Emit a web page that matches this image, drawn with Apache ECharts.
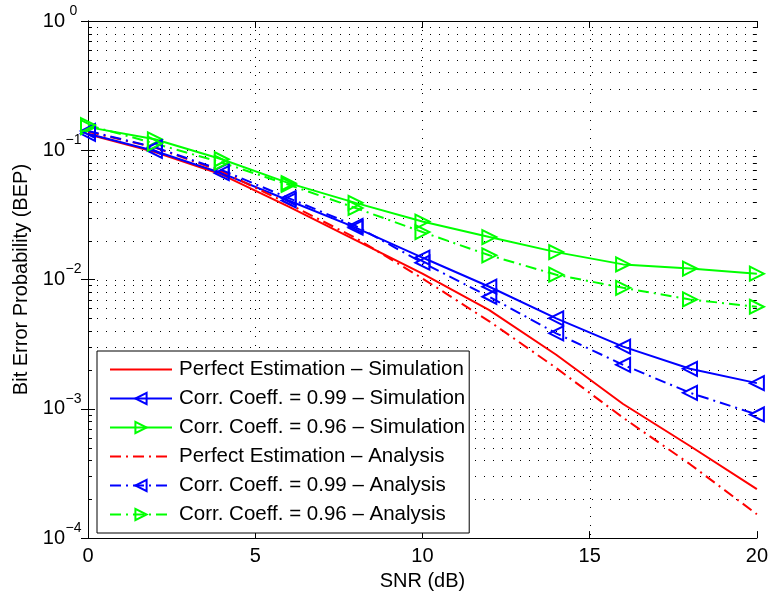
<!DOCTYPE html>
<html>
<head>
<meta charset="utf-8">
<title>BEP vs SNR</title>
<script src="https://cdn.jsdelivr.net/npm/echarts@6/dist/echarts.min.js"></script>
<style>
  html, body { margin: 0; padding: 0; background: #fff; }
  #chart { width: 771px; height: 596px; }
</style>
</head>
<body>
<div id="chart"></div>
<script>
// SNR sample points (dB)
const snr = [0, 2, 4, 6, 8, 10, 12, 14, 16, 18, 20];

// Bit error probability curves
const perfectSim = [0.133, 0.0969, 0.0649, 0.0366, 0.0202, 0.0111, 0.0058, 0.00262, 0.00109, 0.000516, 0.000239];
const rho99Sim   = [0.134, 0.0988, 0.0665, 0.0409, 0.0252, 0.0148, 0.0088, 0.00501, 0.00303, 0.00204, 0.00158];
const rho96Sim   = [0.151, 0.1216, 0.0852, 0.0557, 0.0392, 0.0281, 0.0213, 0.0163, 0.0131, 0.01215, 0.0111];
const perfectAna = [0.139, 0.105, 0.0686, 0.0385, 0.0210, 0.0102, 0.00475, 0.00207, 0.000853, 0.000373, 0.000153];
const rho99Ana   = [0.141, 0.1055, 0.0702, 0.0427, 0.0260, 0.0135, 0.00736, 0.00384, 0.00219, 0.00133, 0.000904];
const rho96Ana   = [0.1566, 0.1127, 0.0804, 0.0541, 0.0358, 0.0233, 0.0154, 0.0109, 0.00863, 0.00702, 0.00616];

const seriesNames = [
  'Perfect Estimation – Simulation',
  'Corr. Coeff. = 0.99 – Simulation',
  'Corr. Coeff. = 0.96 – Simulation',
  'Perfect Estimation – Analysis',
  'Corr. Coeff. = 0.99 – Analysis',
  'Corr. Coeff. = 0.96 – Analysis'
];

// Axis tick values
const xTicks = [0, 5, 10, 15, 20];
const yDecades = [-4, -3, -2, -1, 0];
const minorMultipliers = [2, 3, 4, 5, 6, 7, 8, 9];

const FONT = 'Liberation Sans, Arial, Helvetica, sans-serif';
const RED = '#ff0000', BLUE = '#0000ff', GREEN = '#00ff00';
const CLEAR = 'rgba(0,0,0,0)';
const DASHDOT = [11, 5, 2, 5];
const TRI_LEFT = 'path://M10,0 L0,5 L10,10 Z';
const TRI_RIGHT = 'path://M0,0 L10,5 L0,10 Z';

function pairs(ys) { return snr.map((x, i) => [x, ys[i]]); }

// Horizontal grid rows: every decade inside the box plus the 2..9 minor values
const hGrid = [];
yDecades.forEach(d => {
  if (d > -4 && d < 0) hGrid.push([0, Math.pow(10, d), 0]);
  if (d < 0) minorMultipliers.forEach(m => hGrid.push([0, +(m * Math.pow(10, d)).toPrecision(3), 1]));
});
// Vertical grid columns at the inner x ticks
const vGrid = xTicks.filter(x => x > 0 && x < 20).map(x => [x, 1]);

const crisp = v => Math.round(v) + 0.5;

function renderHGrid(params, api) {
  const cs = params.coordSys;
  const y = crisp(api.coord([0, api.value(1)])[1]);
  const x0 = cs.x, x1 = cs.x + cs.width;
  const children = [{
    type: 'line',
    shape: { x1: x0, y1: y, x2: x1, y2: y },
    style: { stroke: '#000', lineWidth: 1, lineDash: [1, 8] }
  }];
  if (api.value(2)) {
    children.push({ type: 'line', shape: { x1: x0, y1: y, x2: x0 + 4, y2: y }, style: { stroke: '#000', lineWidth: 1 } });
    children.push({ type: 'line', shape: { x1: x1 - 4, y1: y, x2: x1, y2: y }, style: { stroke: '#000', lineWidth: 1 } });
  }
  return { type: 'group', children };
}

function renderVGrid(params, api) {
  const cs = params.coordSys;
  const x = crisp(api.coord([api.value(0), 1])[0]);
  return {
    type: 'line',
    shape: { x1: x, y1: cs.y, x2: x, y2: cs.y + cs.height },
    style: { stroke: '#000', lineWidth: 1, lineDash: [1, 8] }
  };
}

function powLabel(v) {
  const e = Math.round(Math.log10(v));
  const sup = e < 0 ? '\u2212' + (-e) : String(e);
  return '{b|10}{s|' + sup + '}';
}

const tickBase = { show: true, inside: true, length: 7, lineStyle: { color: '#000', width: 1 } };
const lineBase = { show: true, lineStyle: { color: '#000', width: 1 } };

const chart = echarts.init(document.getElementById('chart'), null, { renderer: 'canvas' });

chart.setOption({
  backgroundColor: '#fff',
  animation: false,
  textStyle: { fontFamily: FONT, color: '#000' },
  grid: { left: 88, right: 13, top: 21, bottom: 55, containLabel: false },
  xAxis: [{
    type: 'value', min: 0, max: 20, interval: 5,
    name: 'SNR (dB)', nameLocation: 'middle', nameGap: 32,
    nameTextStyle: { fontSize: 20, fontFamily: FONT, color: '#000' },
    axisLine: lineBase, axisTick: tickBase,
    axisLabel: { fontSize: 20, fontFamily: FONT, color: '#000', margin: 8 },
    splitLine: { show: false }
  }, {
    type: 'value', min: 0, max: 20, interval: 5, position: 'top',
    axisLine: lineBase, axisTick: tickBase, axisLabel: { show: false }, splitLine: { show: false }
  }],
  yAxis: [{
    type: 'log', logBase: 10, min: 1e-4, max: 1,
    name: 'Bit Error Probability (BEP)', nameLocation: 'middle', nameGap: 55,
    nameTextStyle: { fontSize: 20, fontFamily: FONT, color: '#000' },
    axisLine: lineBase, axisTick: tickBase,
    axisLabel: {
      margin: 6,
      formatter: powLabel,
      rich: {
        b: { fontSize: 20, lineHeight: 20, fontFamily: FONT, color: '#000' },
        s: { fontSize: 14, lineHeight: 14, fontFamily: FONT, color: '#000', padding: [0, 0, 20, 0], width: 17, align: 'left' }
      }
    },
    splitLine: { show: false }, minorTick: { show: false }
  }, {
    type: 'log', logBase: 10, min: 1e-4, max: 1, position: 'right',
    axisLine: lineBase, axisTick: tickBase, axisLabel: { show: false }, splitLine: { show: false }
  }],
  legend: {
    data: seriesNames,
    orient: 'vertical',
    left: 97, top: 351,
    padding: [8, 4, 8, 12],
    itemWidth: 62, itemHeight: 14, itemGap: 8,
    backgroundColor: '#fff',
    borderColor: '#000', borderWidth: 1, borderRadius: 0,
    selectedMode: false,
    textStyle: { fontSize: 20.5, lineHeight: 21, fontFamily: FONT, color: '#000', padding: [0, 0, 0, 2] }
  },
  series: [
    {
      type: 'custom', name: 'hgrid', silent: true, z: 1, clip: true,
      renderItem: renderHGrid, data: hGrid, encode: { x: 0, y: 1 }
    },
    {
      type: 'custom', name: 'vgrid', silent: true, z: 1, clip: true,
      renderItem: renderVGrid, data: vGrid, encode: { x: 0, y: 1 }
    },
    {
      name: seriesNames[0], type: 'line', data: pairs(perfectSim), z: 3,
      symbol: 'none', lineStyle: { color: RED, width: 2 },
      itemStyle: { color: CLEAR, borderColor: CLEAR, borderWidth: 0 }
    },
    {
      name: seriesNames[1], type: 'line', data: pairs(rho99Sim), z: 3,
      symbol: TRI_LEFT, symbolSize: 14,
      lineStyle: { color: BLUE, width: 2 },
      itemStyle: { color: CLEAR, borderColor: BLUE, borderWidth: 2 }
    },
    {
      name: seriesNames[2], type: 'line', data: pairs(rho96Sim), z: 3,
      symbol: TRI_RIGHT, symbolSize: 14,
      lineStyle: { color: GREEN, width: 2 },
      itemStyle: { color: CLEAR, borderColor: GREEN, borderWidth: 2 }
    },
    {
      name: seriesNames[3], type: 'line', data: pairs(perfectAna), z: 3,
      symbol: 'none', lineStyle: { color: RED, width: 2, type: DASHDOT },
      itemStyle: { color: CLEAR, borderColor: CLEAR, borderWidth: 0 }
    },
    {
      name: seriesNames[4], type: 'line', data: pairs(rho99Ana), z: 3,
      symbol: TRI_LEFT, symbolSize: 14,
      lineStyle: { color: BLUE, width: 2, type: DASHDOT },
      itemStyle: { color: CLEAR, borderColor: BLUE, borderWidth: 2 }
    },
    {
      name: seriesNames[5], type: 'line', data: pairs(rho96Ana), z: 3,
      symbol: TRI_RIGHT, symbolSize: 14,
      lineStyle: { color: GREEN, width: 2, type: DASHDOT },
      itemStyle: { color: CLEAR, borderColor: GREEN, borderWidth: 2 }
    }
  ]
});
</script>
</body>
</html>
